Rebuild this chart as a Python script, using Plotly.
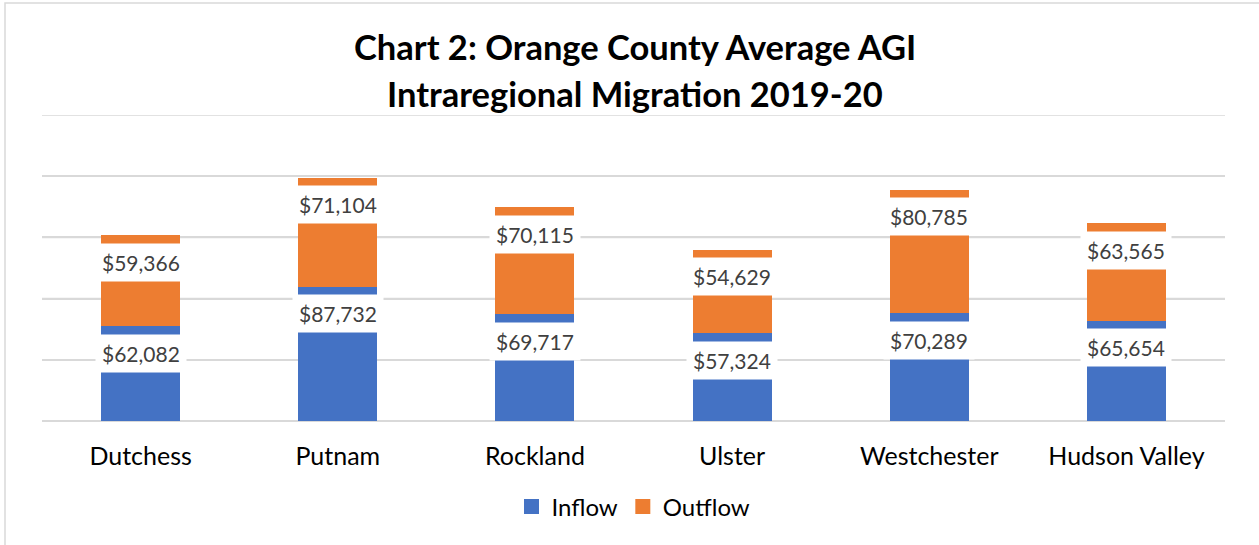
import plotly.graph_objects as go

categories = ["Dutchess", "Putnam", "Rockland", "Ulster", "Westchester", "Hudson Valley"]
inflow = [62082, 87732, 69717, 57324, 70289, 65654]
outflow = [59366, 71104, 70115, 54629, 80785, 63565]
series_names = ["Inflow", "Outflow"]
title_lines = ["Chart 2: Orange County Average AGI", "Intraregional Migration 2019-20"]
grid_values = [0, 40000, 80000, 120000, 160000, 200000]

BLUE = "#4472C4"
ORANGE = "#ED7D31"
GRID = "#D9D9D9"
FONT = "Lato"

fig = go.Figure()
fig.add_trace(go.Bar(x=categories, y=inflow, name=series_names[0], showlegend=False,
                     marker=dict(color=BLUE, line=dict(width=0))))
fig.add_trace(go.Bar(x=categories, y=outflow, name=series_names[1], showlegend=False,
                     marker=dict(color=ORANGE, line=dict(width=0))))
for name, col in zip(series_names, [BLUE, ORANGE]):
    fig.add_trace(go.Scatter(x=[None], y=[None], mode="markers", name=name,
                             marker=dict(symbol="square", size=15, color=col)))

annotations = []
for i, c in enumerate(categories):
    tops = [inflow[i], inflow[i] + outflow[i]]
    vals = [inflow[i], outflow[i]]
    for top, v in zip(tops, vals):
        annotations.append(dict(
            x=c, y=top, xref="x", yref="y", yshift=-27,
            text=f"${v:,}", showarrow=False,
            font=dict(family=FONT, size=21, color="#404040"),
            bgcolor="white", borderpad=6, yanchor="middle",
        ))

title_y = [47, 93]
for line, yp in zip(title_lines, title_y):
    annotations.append(dict(
        x=0.5015, y=(421 - yp) / 306, xref="paper", yref="paper",
        text="<b>" + line + "</b>", showarrow=False,
        font=dict(family=FONT, size=34.5, color="black"),
        xanchor="center", yanchor="middle",
    ))

fig.update_layout(
    barmode="stack",
    bargap=0.6,
    width=1259, height=545,
    margin=dict(l=42, r=34, t=115, b=124, autoexpand=False),
    paper_bgcolor="white", plot_bgcolor="white",
    xaxis=dict(showgrid=False, showline=False, ticks="", automargin=False,
               ticklabelstandoff=18,
               tickfont=dict(family=FONT, size=25, color="black")),
    yaxis=dict(range=[0, 200000], tickvals=grid_values, showticklabels=False, automargin=False,
               showgrid=True, gridcolor=GRID, gridwidth=1.5,
               zeroline=True, zerolinecolor=GRID, zerolinewidth=1.5),
    legend=dict(orientation="h", x=0.5, xanchor="center", y=(421 - 507) / 306, yanchor="middle",
                font=dict(family=FONT, size=24, color="black"), traceorder="normal",
                itemwidth=30),
    annotations=annotations,
    shapes=[
        dict(type="line", xref="paper", yref="y", x0=0, x1=1, y0=v, y1=v,
             line=dict(color=GRID, width=1.5), layer="below")
        for v in grid_values
    ] + [dict(type="rect", xref="paper", yref="paper",
              x0=(5 - 42) / 1183, x1=1.2, y0=-0.8, y1=(421 - 3) / 306,
              line=dict(color=GRID, width=1.5), fillcolor="rgba(0,0,0,0)", layer="below")],
)

fig.write_html("out.html", config={"displayModeBar": False},
               post_script="document.body.style.margin='0';document.body.style.overflow='hidden';")
